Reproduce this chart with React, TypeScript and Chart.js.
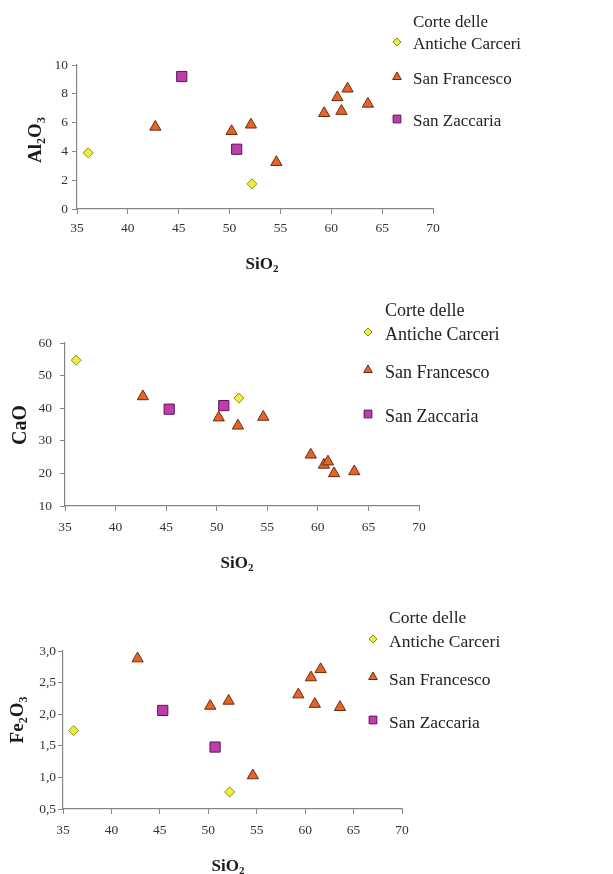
import React, { useEffect, useRef } from 'react';
import { Chart, registerables } from 'chart.js';

Chart.register(...registerables);

// ---------- data ----------
const SERIES_LABELS = [['Corte delle', 'Antiche Carceri'], ['San Francesco'], ['San Zaccaria']];

const carceriSiO2 = [36.1, 52.2];
const carceriAl2O3 = [3.9, 1.75];
const carceriCaO = [54.7, 43.1];
const carceriFe2O3 = [1.74, 0.77];

const francescoSiO2 = [42.7, 50.2, 52.1, 54.6, 59.3, 60.6, 61.6, 61.0, 63.6];
const francescoAl2O3 = [5.7, 5.4, 5.85, 3.25, 6.65, 7.75, 8.35, 6.8, 7.3];
const francescoCaO = [43.6, 37.1, 34.6, 37.3, 25.7, 22.6, 20.0, 23.6, 20.6];
const francescoFe2O3 = [2.88, 2.13, 2.21, 1.03, 2.31, 2.58, 2.71, 2.16, 2.11];

const zaccariaSiO2 = [45.3, 50.7];
const zaccariaAl2O3 = [9.2, 4.15];
const zaccariaCaO = [39.7, 40.8];
const zaccariaFe2O3 = [2.06, 1.48];

const X_TITLE = 'SiO2';
const Y_TITLES = ['Al2O3', 'CaO', 'Fe2O3'];

// ---------- styles ----------
const SERIF = "'Liberation Serif', 'Times New Roman', serif";
const STYLES = [
  { shape: 'rectRot', fill: '#eeee3c', stroke: '#8c8c1e', r: 5, lr: 4 },
  { shape: 'triangle', fill: '#e2662a', stroke: '#6e2a0c', r: 6.5, lr: 5 },
  { shape: 'rect', fill: '#c23cb0', stroke: '#55184f', r: 7.2, lr: 5.5 },
];

function toPts(xs: number[], ys: number[]) {
  return xs.map((x, i) => ({ x, y: ys[i] }));
}

function drawMarker(ctx: CanvasRenderingContext2D, shape: string, x: number, y: number, r: number, fill: string, stroke: string) {
  ctx.beginPath();
  if (shape === 'rectRot') {
    ctx.moveTo(x - r, y);
    ctx.lineTo(x, y - r);
    ctx.lineTo(x + r, y);
    ctx.lineTo(x, y + r);
    ctx.closePath();
  } else if (shape === 'triangle') {
    ctx.moveTo(x, y - r);
    ctx.lineTo(x + r * 0.866, y + r / 2);
    ctx.lineTo(x - r * 0.866, y + r / 2);
    ctx.closePath();
  } else {
    const s = r * Math.SQRT1_2;
    ctx.rect(x - s, y - s, 2 * s, 2 * s);
  }
  ctx.fillStyle = fill;
  ctx.fill();
  ctx.lineWidth = 1;
  ctx.strokeStyle = stroke;
  ctx.stroke();
}

function drawSubText(ctx: CanvasRenderingContext2D, text: string, cx: number, cy: number, size: number, rotate: boolean) {
  const main = `bold ${size}px ${SERIF}`;
  const sub = `bold ${Math.round(size * 0.62)}px ${SERIF}`;
  const parts = text.split('').map((c) => ({ c, s: /[0-9]/.test(c) }));
  let total = 0;
  parts.forEach((p) => {
    ctx.font = p.s ? sub : main;
    total += ctx.measureText(p.c).width;
  });
  ctx.save();
  ctx.translate(cx, cy);
  if (rotate) ctx.rotate(-Math.PI / 2);
  ctx.fillStyle = '#1a1a1a';
  ctx.textBaseline = 'alphabetic';
  let x = -total / 2;
  const base = size * 0.33;
  parts.forEach((p) => {
    ctx.font = p.s ? sub : main;
    ctx.fillText(p.c, x, p.s ? base + size * 0.22 : base);
    x += ctx.measureText(p.c).width;
  });
  ctx.restore();
}

const overlayPlugin = {
  id: 'overlay',
  afterDraw(chart: any, _args: any, o: any) {
    const ctx: CanvasRenderingContext2D = chart.ctx;
    ctx.save();
    drawSubText(ctx, X_TITLE, o.xTitle[0], o.xTitle[1], o.xTitleSize, false);
    drawSubText(ctx, o.yTitle, o.yTitlePos[0], o.yTitlePos[1], o.yTitleSize, true);
    // legend
    ctx.font = `${o.legendSize}px ${SERIF}`;
    ctx.textBaseline = 'middle';
    ctx.textAlign = 'left';
    SERIES_LABELS.forEach((lines, i) => {
      const yLast = o.legendRows[i];
      const st = STYLES[i];
      drawMarker(ctx, st.shape, o.legendMarkerX, yLast - 3, st.lr, st.fill, st.stroke);
      ctx.fillStyle = '#222222';
      lines.forEach((ln, j) => {
        const y = yLast - (lines.length - 1 - j) * o.legendLineGap;
        ctx.fillText(ln, o.legendTextX, y);
      });
    });
    ctx.restore();
  },
};

type Cfg = {
  w: number;
  h: number;
  area: { left: number; right: number; top: number; bottom: number };
  yMin: number;
  yMax: number;
  yStep: number;
  yComma: boolean;
  xPad: number;
  yPad: number;
  ys: number[][];
  overlay: any;
};

const W = 613;

const CONFIGS: Cfg[] = [
  {
    w: W,
    h: 290,
    area: { left: 77, right: 433, top: 65, bottom: 209 },
    yMin: 0, yMax: 10, yStep: 2, yComma: false, xPad: 6, yPad: 4,
    ys: [carceriAl2O3, francescoAl2O3, zaccariaAl2O3],
    overlay: {
      xTitle: [262, 263], xTitleSize: 17,
      yTitle: Y_TITLES[0], yTitlePos: [35, 140], yTitleSize: 19,
      legendSize: 17, legendMarkerX: 397, legendTextX: 413,
      legendRows: [45, 80, 122], legendLineGap: 22,
    },
  },
  {
    w: W,
    h: 290,
    area: { left: 65, right: 419, top: 53, bottom: 216 },
    yMin: 10, yMax: 60, yStep: 10, yComma: false, xPad: 8, yPad: 8,
    ys: [carceriCaO, francescoCaO, zaccariaCaO],
    overlay: {
      xTitle: [237, 272], xTitleSize: 17,
      yTitle: Y_TITLES[1], yTitlePos: [19, 135], yTitleSize: 20,
      legendSize: 18, legendMarkerX: 368, legendTextX: 385,
      legendRows: [45, 83, 127], legendLineGap: 24,
    },
  },
  {
    w: W,
    h: 294,
    area: { left: 63, right: 402, top: 71, bottom: 229 },
    yMin: 0.5, yMax: 3.0, yStep: 0.5, yComma: true, xPad: 8, yPad: 2,
    ys: [carceriFe2O3, francescoFe2O3, zaccariaFe2O3],
    overlay: {
      xTitle: [228, 285], xTitleSize: 17,
      yTitle: Y_TITLES[2], yTitlePos: [17, 140], yTitleSize: 19,
      legendSize: 17.5, legendMarkerX: 373, legendTextX: 389,
      legendRows: [62, 100, 143], legendLineGap: 24,
    },
  },
];

const SIO2 = [carceriSiO2, francescoSiO2, zaccariaSiO2];

function ScatterPanel({ cfg }: { cfg: Cfg }) {
  const ref = useRef<HTMLCanvasElement | null>(null);
  useEffect(() => {
    if (!ref.current) return;
    const X_AXIS_H = 34;
    const tickFont = { family: SERIF, size: 13.5 };
    const axisColor = '#858585';
    const chart = new Chart(ref.current, {
      type: 'scatter',
      data: {
        datasets: SERIES_LABELS.map((lab, i) => ({
          label: lab.join(' '),
          data: toPts(SIO2[i], cfg.ys[i]),
          pointStyle: STYLES[i].shape as any,
          pointRadius: STYLES[i].r,
          pointBackgroundColor: STYLES[i].fill,
          pointBorderColor: STYLES[i].stroke,
          pointBorderWidth: 1,
        })),
      },
      options: {
        responsive: false,
        animation: false,
        devicePixelRatio: 1,
        events: [],
        layout: {
          padding: {
            left: 0,
            top: cfg.area.top,
            right: cfg.w - cfg.area.right,
            bottom: cfg.h - cfg.area.bottom - X_AXIS_H,
          },
        },
        plugins: {
          legend: { display: false },
          tooltip: { enabled: false },
          overlay: cfg.overlay,
        } as any,
        scales: {
          x: {
            type: 'linear',
            min: 35,
            max: 70,
            ticks: { stepSize: 5, font: tickFont, color: '#333333', padding: cfg.xPad },
            grid: { drawOnChartArea: false, drawTicks: true, tickLength: 5, color: axisColor },
            border: { display: true, color: axisColor, width: 1.2 },
            afterFit: (s: any) => { s.height = X_AXIS_H; },
          },
          y: {
            type: 'linear',
            min: cfg.yMin,
            max: cfg.yMax,
            ticks: {
              stepSize: cfg.yStep,
              font: tickFont,
              color: '#333333',
              padding: cfg.yPad,
              callback: (v: any) => (cfg.yComma ? Number(v).toFixed(1).replace('.', ',') : String(v)),
            },
            grid: { drawOnChartArea: false, drawTicks: true, tickLength: 5, color: axisColor },
            border: { display: true, color: axisColor, width: 1.2 },
            afterFit: (s: any) => { s.width = cfg.area.left; },
          },
        },
      },
      plugins: [overlayPlugin as any],
    });
    return () => chart.destroy();
  }, [cfg]);
  return <canvas ref={ref} width={cfg.w} height={cfg.h} style={{ display: 'block', width: cfg.w, height: cfg.h }} />;
}

export default function App() {
  return (
    <div style={{ position: 'absolute', left: 0, top: 0, width: 613, height: 874, background: '#fff' }}>
      {CONFIGS.map((c, i) => (
        <ScatterPanel key={i} cfg={c} />
      ))}
    </div>
  );
}
